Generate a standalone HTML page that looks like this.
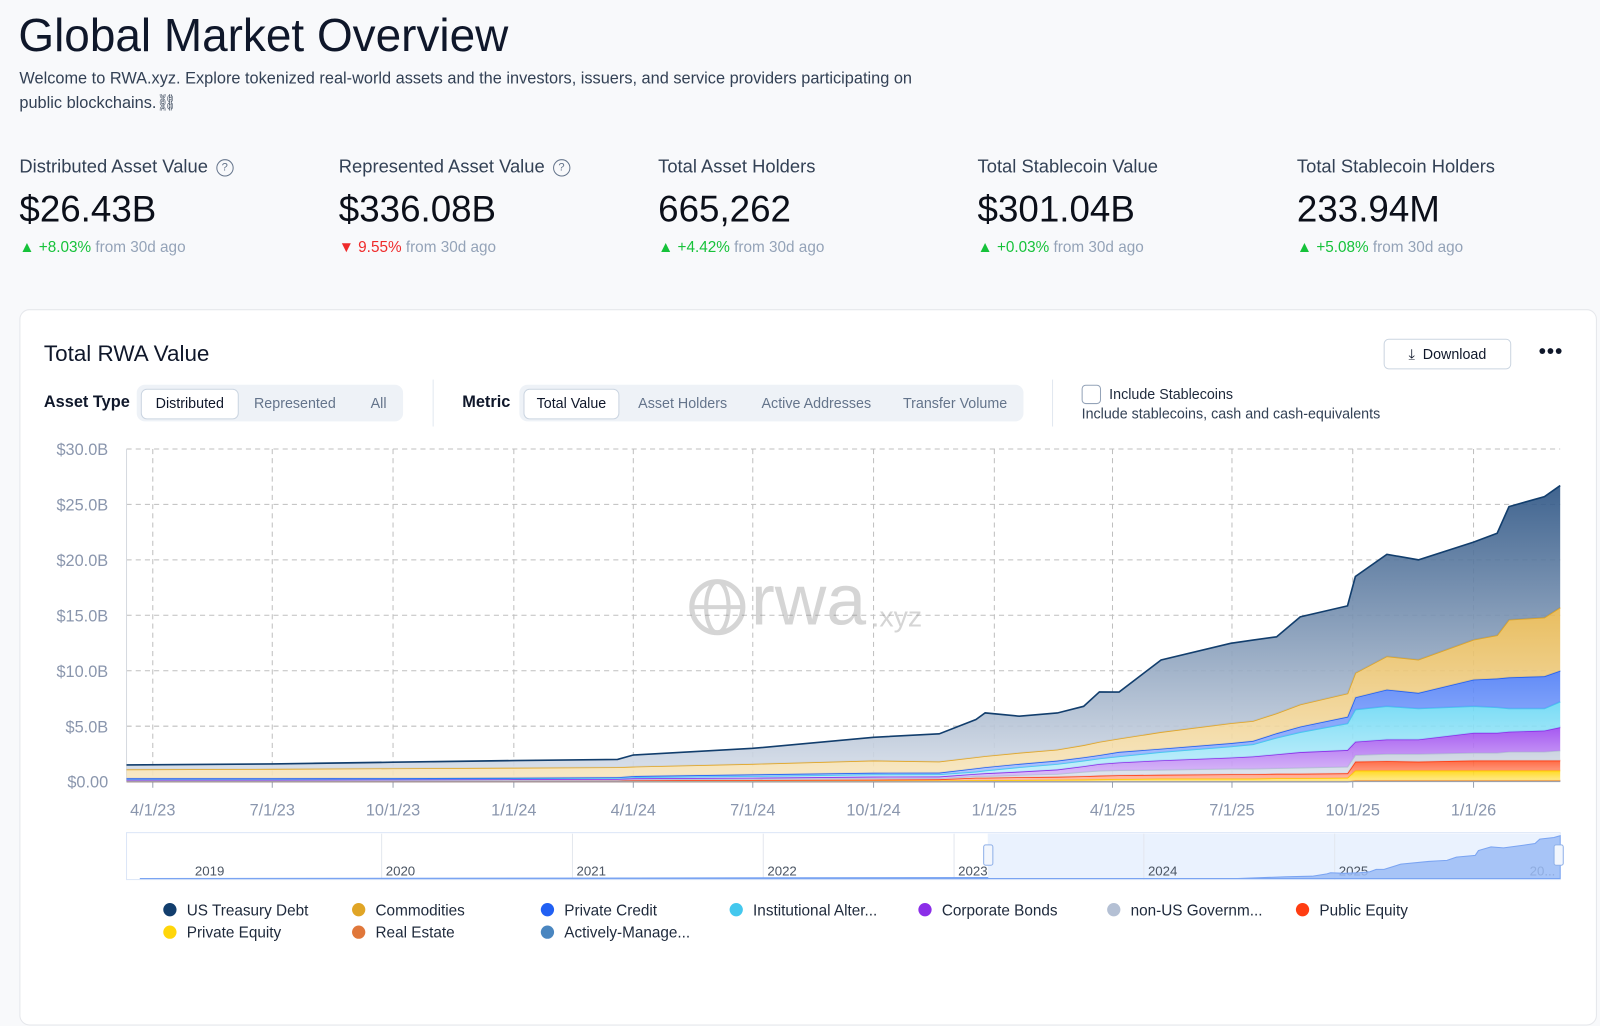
<!DOCTYPE html>
<html><head><meta charset="utf-8">
<style>
body{margin:0;width:1600px;height:963px;background:#f8f9fb;font-family:"Liberation Sans",sans-serif;color:#0f172a;overflow:hidden;position:relative}
#root{position:absolute;left:0;top:0;width:1568px;height:944px;transform:scale(1.0204);transform-origin:0 0}
.abs{position:absolute}
.stat-label{font-size:18px;color:#334155;white-space:nowrap}
.stat-val{font-size:36px;color:#0b0f19;white-space:nowrap}
.stat-chg{font-size:15px;color:#94a3b8;white-space:nowrap}
.up{color:#16c23a}.down{color:#ef2b2b}
.q{display:inline-block;width:15px;height:15px;border:1.5px solid #64748b;border-radius:50%;font-size:11px;text-align:center;line-height:15px;color:#64748b;vertical-align:2px;margin-left:8px}
.seg{position:absolute;background:#eef2f7;border-radius:8px;height:36px}
.seg span{position:absolute;top:4px;height:28px;line-height:28px;font-size:14px;color:#64748b;text-align:center}
.seg span.on{background:#fff;border:1px solid #cbd5e1;border-radius:6px;color:#0f172a;line-height:26px}
.leg{position:absolute;font-size:15px;color:#1e293b;white-space:nowrap}
.leg i{display:inline-block;width:13px;height:13px;border-radius:50%;margin-right:10px;vertical-align:-1px}
</style></head><body>
<div id="root">
<div class="abs" style="left:18px;top:9px;font-size:45px;">Global Market Overview</div>
<div class="abs" style="left:19px;top:66px;font-size:16px;line-height:24px;color:#334155;width:900px">Welcome to RWA.xyz. Explore tokenized real-world assets and the investors, issuers, and service providers participating on public blockchains.⛓</div>

<div class="abs" style="left:19px;top:153px">
<div class="stat-label">Distributed Asset Value<span class="q">?</span></div>
<div class="stat-val" style="margin-top:10px">$26.43B</div>
<div class="stat-chg" style="margin-top:8px"><span class="up">▲ +8.03%</span> from 30d ago</div></div>
<div class="abs" style="left:332px;top:153px">
<div class="stat-label">Represented Asset Value<span class="q">?</span></div>
<div class="stat-val" style="margin-top:10px">$336.08B</div>
<div class="stat-chg" style="margin-top:8px"><span class="down">▼ 9.55%</span> from 30d ago</div></div>
<div class="abs" style="left:645px;top:153px">
<div class="stat-label">Total Asset Holders</div>
<div class="stat-val" style="margin-top:10px">665,262</div>
<div class="stat-chg" style="margin-top:8px"><span class="up">▲ +4.42%</span> from 30d ago</div></div>
<div class="abs" style="left:958px;top:153px">
<div class="stat-label">Total Stablecoin Value</div>
<div class="stat-val" style="margin-top:10px">$301.04B</div>
<div class="stat-chg" style="margin-top:8px"><span class="up">▲ +0.03%</span> from 30d ago</div></div>
<div class="abs" style="left:1271px;top:153px">
<div class="stat-label">Total Stablecoin Holders</div>
<div class="stat-val" style="margin-top:10px">233.94M</div>
<div class="stat-chg" style="margin-top:8px"><span class="up">▲ +5.08%</span> from 30d ago</div></div>

<div class="abs" style="left:19px;top:303px;width:1544px;height:700px;background:#fff;border:1px solid #e5e7eb;border-radius:10px"></div>
<div class="abs" style="left:43px;top:334px;font-size:22px">Total RWA Value</div>
<div class="abs" style="left:1356px;top:332px;width:123px;height:28px;border:1px solid #cbd5e1;border-radius:5px;background:#fff;font-size:14px;line-height:28px;text-align:center">⤓&nbsp; Download</div>
<div class="abs" style="left:1508px;top:334px;font-size:20px;font-weight:bold;letter-spacing:1px">•••</div>

<div class="abs" style="left:43px;top:386px;font-size:16px;font-weight:bold">Asset Type</div>
<div class="seg" style="left:134px;top:377px;width:261px">
<span class="on" style="left:4px;width:94px">Distributed</span>
<span style="left:110px;width:90px">Represented</span>
<span style="left:222px;width:30px">All</span></div>
<div class="abs" style="left:424px;top:372px;width:1px;height:46px;background:#e2e8f0"></div>
<div class="abs" style="left:453px;top:386px;font-size:16px;font-weight:bold">Metric</div>
<div class="seg" style="left:509px;top:377px;width:494px">
<span class="on" style="left:4px;width:92px">Total Value</span>
<span style="left:110px;width:100px">Asset Holders</span>
<span style="left:228px;width:126px">Active Addresses</span>
<span style="left:370px;width:114px">Transfer Volume</span></div>
<div class="abs" style="left:1031px;top:372px;width:1px;height:46px;background:#e2e8f0"></div>
<div class="abs" style="left:1060px;top:377px;width:17px;height:17px;border:1px solid #94a3b8;border-radius:4px;background:#fff"></div>
<div class="abs" style="left:1087px;top:378px;font-size:14px;color:#1e293b">Include Stablecoins</div>
<div class="abs" style="left:1060px;top:397px;font-size:14px;color:#334155">Include stablecoins, cash and cash-equivalents</div>

<svg class="abs" id="chart" style="left:0;top:0" width="1568" height="944"></svg>

<div class="leg" style="left:160px;top:884px"><i style="background:#123e6d"></i>US Treasury Debt</div>
<div class="leg" style="left:345px;top:884px"><i style="background:#e0a526"></i>Commodities</div>
<div class="leg" style="left:530px;top:884px"><i style="background:#2160f3"></i>Private Credit</div>
<div class="leg" style="left:715px;top:884px"><i style="background:#44c8ee"></i>Institutional Alter...</div>
<div class="leg" style="left:900px;top:884px"><i style="background:#8b2ee8"></i>Corporate Bonds</div>
<div class="leg" style="left:1085px;top:884px"><i style="background:#b4c0d4"></i>non-US Governm...</div>
<div class="leg" style="left:1270px;top:884px"><i style="background:#ff3d12"></i>Public Equity</div>
<div class="leg" style="left:160px;top:906px"><i style="background:#ffd60a"></i>Private Equity</div>
<div class="leg" style="left:345px;top:906px"><i style="background:#e0773a"></i>Real Estate</div>
<div class="leg" style="left:530px;top:906px"><i style="background:#4a86c0"></i>Actively-Manage...</div>
</div>
<script>
const dates=["2023-03-12","2023-07-01","2023-10-01","2024-01-01","2024-03-20","2024-04-01","2024-07-01","2024-10-01","2024-11-20","2024-12-18","2024-12-25","2025-01-20","2025-02-18","2025-03-10","2025-03-22","2025-04-06","2025-05-08","2025-06-30","2025-07-17","2025-08-04","2025-08-22","2025-09-27","2025-10-03","2025-10-27","2025-11-20","2026-01-01","2026-01-19","2026-01-28","2026-02-24","2026-03-08"];
const activelyManaged=[0.01,0.01,0.01,0.01,0.01,0.01,0.01,0.01,0.01,0.01,0.01,0.01,0.01,0.01,0.01,0.01,0.01,0.01,0.01,0.01,0.01,0.01,0.05,0.05,0.05,0.05,0.05,0.05,0.05,0.05];
const realEstate=[0.01,0.01,0.01,0.01,0.01,0.01,0.01,0.01,0.02,0.02,0.02,0.02,0.02,0.02,0.02,0.02,0.02,0.02,0.02,0.02,0.02,0.02,0.05,0.05,0.05,0.05,0.05,0.05,0.05,0.05];
const privateEquity=[0.02,0.02,0.02,0.02,0.03,0.04,0.05,0.06,0.07,0.09,0.09,0.12,0.14,0.16,0.18,0.2,0.24,0.24,0.24,0.28,0.28,0.32,0.9,0.9,0.9,0.9,0.9,0.9,0.9,0.9];
const publicEquity=[0.03,0.03,0.04,0.04,0.04,0.06,0.08,0.1,0.11,0.23,0.23,0.25,0.27,0.3,0.33,0.35,0.35,0.4,0.4,0.4,0.4,0.4,0.8,0.85,0.8,0.9,0.9,0.9,0.9,0.9];
const nonUsGovt=[0.05,0.05,0.05,0.06,0.06,0.08,0.1,0.12,0.1,0.15,0.15,0.2,0.25,0.4,0.45,0.45,0.45,0.5,0.5,0.5,0.55,0.6,0.6,0.65,0.7,0.7,0.7,0.8,0.8,0.9];
const corporateBonds=[0.06,0.06,0.07,0.08,0.09,0.1,0.1,0.15,0.15,0.2,0.25,0.3,0.4,0.5,0.6,0.7,0.85,1.0,1.1,1.25,1.4,1.5,1.2,1.3,1.3,1.8,1.8,1.8,1.9,2.1];
const institutionalAlt=[0.07,0.07,0.07,0.08,0.09,0.1,0.15,0.2,0.2,0.2,0.25,0.4,0.5,0.5,0.5,0.55,0.75,1.0,1.1,1.5,1.8,2.4,2.9,3.0,2.8,2.4,2.3,2.1,2.0,2.3];
const privateCredit=[0.05,0.05,0.05,0.05,0.07,0.1,0.15,0.15,0.15,0.3,0.3,0.3,0.3,0.3,0.3,0.4,0.3,0.3,0.3,0.4,0.5,0.6,1.1,1.5,1.4,2.4,2.6,2.8,2.9,2.8];
const commodities=[0.8,0.85,0.88,0.9,0.9,0.85,0.95,1.1,1.0,1.0,1.0,1.0,1.0,1.1,1.2,1.2,1.5,1.8,1.8,1.8,2.0,2.1,2.2,3.0,3.0,3.6,3.9,5.2,5.3,5.7];
const usTreasury=[0.4,0.45,0.55,0.65,0.7,1.05,1.4,2.1,2.5,3.4,3.9,3.3,3.3,3.5,4.5,4.2,6.5,7.2,7.3,6.9,7.9,7.9,8.7,9.2,9.0,8.8,9.2,10.2,10.9,11.0];
const yTicks=[0,5,10,15,20,25,30];
const yTickLabels=["$0.00","$5.0B","$10.0B","$15.0B","$20.0B","$25.0B","$30.0B"];
const xTicks=["2023-04-01","2023-07-01","2023-10-01","2024-01-01","2024-04-01","2024-07-01","2024-10-01","2025-01-01","2025-04-01","2025-07-01","2025-10-01","2026-01-01"];
const xTickLabels=["4/1/23","7/1/23","10/1/23","1/1/24","4/1/24","7/1/24","10/1/24","1/1/25","4/1/25","7/1/25","10/1/25","1/1/26"];
const navYears=["2019","2020","2021","2022","2023","2024","2025","20..."];

const NS="http://www.w3.org/2000/svg";
const svg=document.getElementById('chart');
const L=124,R=1529,T=440,B=766;
const t0=Date.parse("2023-03-12"),t1=Date.parse("2026-03-08");
const x=d=>L+(Date.parse(d)-t0)/(t1-t0)*(R-L);
const y=v=>B-v/30*(B-T);
function mk(tag,a){const e=document.createElementNS(NS,tag);for(const k in a)e.setAttribute(k,a[k]);svg.appendChild(e);return e;}

const defs=mk('defs',{});
const series=[
 {n:'actively-managed',d:activelyManaged,c:'#4a86c0',top:'#4a86c0',bot:'#9cc0e0'},
 {n:'real-estate',d:realEstate,c:'#e0773a',top:'#e0773a',bot:'#f3c2a0'},
 {n:'private-equity',d:privateEquity,c:'#ffc800',top:'#ffd60a',bot:'#ffe98a'},
 {n:'public-equity',d:publicEquity,c:'#ff3d12',top:'#ff5a30',bot:'#ffc0ad'},
 {n:'non-us-govt',d:nonUsGovt,c:'#b4c0d4',top:'#c6cfdd',bot:'#dfe5ee'},
 {n:'corporate-bonds',d:corporateBonds,c:'#8b2ee8',top:'#9c47ef',bot:'#dcc4f8'},
 {n:'institutional-alt',d:institutionalAlt,c:'#44c8ee',top:'#6ad8f4',bot:'#c9f0fb'},
 {n:'private-credit',d:privateCredit,c:'#2160f3',top:'#4f7ef6',bot:'#aec4ff'},
 {n:'commodities',d:commodities,c:'#e0a526',top:'#e6b64e',bot:'#f7e6c0'},
 {n:'us-treasury',d:usTreasury,c:'#123e6d',top:'#2b5383',bot:'#d3dbe7'}];
series.forEach((s,i)=>{const g=document.createElementNS(NS,'linearGradient');g.setAttribute('id','g'+i);g.setAttribute('x1',0);g.setAttribute('y1',0);g.setAttribute('x2',0);g.setAttribute('y2',1);
 g.innerHTML=`<stop offset="0" stop-color="${s.top}"/><stop offset="1" stop-color="${s.bot}"/>`;defs.appendChild(g);});

yTicks.forEach((v,i)=>{
 if(v>0){const l=mk('line',{x1:L,x2:R,y1:y(v),y2:y(v),stroke:'#bfbfbf','stroke-dasharray':'5,4'});
 }
 const t=mk('text',{x:106,y:y(v)+6,'text-anchor':'end','font-size':16,fill:'#8a96ad'});t.textContent=yTickLabels[i];
 
});
xTicks.forEach((d,i)=>{
 const l=mk('line',{x1:x(d),x2:x(d),y1:T,y2:B,stroke:'#bfbfbf','stroke-dasharray':'5,4'});
 
 mk('line',{x1:x(d),x2:x(d),y1:B,y2:B+6,stroke:'#9aa3b2'});
 const t=mk('text',{x:x(d),y:B+33,'text-anchor':'middle','font-size':16,fill:'#8a96ad'});t.textContent=xTickLabels[i];
 
});
mk('line',{x1:L,x2:L,y1:T,y2:B,stroke:'#d5d9e0'});

const wm=mk('g',{opacity:0.35});

wm.innerHTML='<circle cx="703" cy="595" r="25" fill="none" stroke="#888" stroke-width="5"/><ellipse cx="703" cy="595" rx="11" ry="25" fill="none" stroke="#888" stroke-width="4"/><line x1="678" y1="595" x2="728" y2="595" stroke="#888" stroke-width="4"/><text x="736" y="612" font-size="70" fill="#888" font-family="Liberation Sans">rwa</text><text x="854" y="614" font-size="28" fill="#888" font-family="Liberation Sans">.xyz</text>';

let base=dates.map(()=>0);
series.forEach((s,i)=>{
 const top=base.map((b,j)=>b+s.d[j]);
 let p='M'+dates.map((d,j)=>x(d)+','+y(top[j])).join('L');
 const lineP=p;
 for(let j=dates.length-1;j>=0;j--)p+='L'+x(dates[j])+','+y(base[j]);
 const a=mk('path',{d:p+'Z',fill:'url(#g'+i+')','fill-opacity':0.9});
 
 const ln=mk('path',{d:lineP,fill:'none',stroke:s.c,'stroke-width':1.6});
 
 base=top;
});
mk('line',{x1:L,x2:R,y1:B,y2:B,stroke:'#9aa3b2'});

const nav=mk('g',{});

mk('rect',{x:124,y:816,width:1405,height:46,fill:'#fff',stroke:'#dbe6f7'});
mk('rect',{x:968,y:817,width:561,height:45,fill:'#eaf2fe'});
const navX=[137,374,561,748,935,1121,1308,1495];
navYears.forEach((yr,i)=>{
 if(i>0&&i<7)mk('line',{x1:navX[i],x2:navX[i],y1:817,y2:862,stroke:'#e3e7ee'});
 const t=mk('text',{x:i==0?191:navX[i]+4,y:858,'font-size':13,fill:'#4b5563'});t.textContent=yr;
 
});
let np='M137,861 L968,860';
dates.forEach((d,j)=>{let tot=0;series.forEach(s=>tot+=s.d[j]);np+=' L'+(968+(x(d)-L)/(R-L)*561)+','+(861-Math.max(0,tot-3)/23.7*42);});
np+=' L1529,861 Z';
mk('path',{d:np,fill:'#9bbcf6',stroke:'#7aa4f2','stroke-width':1,'fill-opacity':0.85});
mk('rect',{x:964,y:828,width:9,height:20,fill:'#f2f6fd',stroke:'#8fb0e8',rx:2});
mk('rect',{x:1523,y:828,width:9,height:20,fill:'#f2f6fd',stroke:'#8fb0e8',rx:2});
</script>
</body></html>
